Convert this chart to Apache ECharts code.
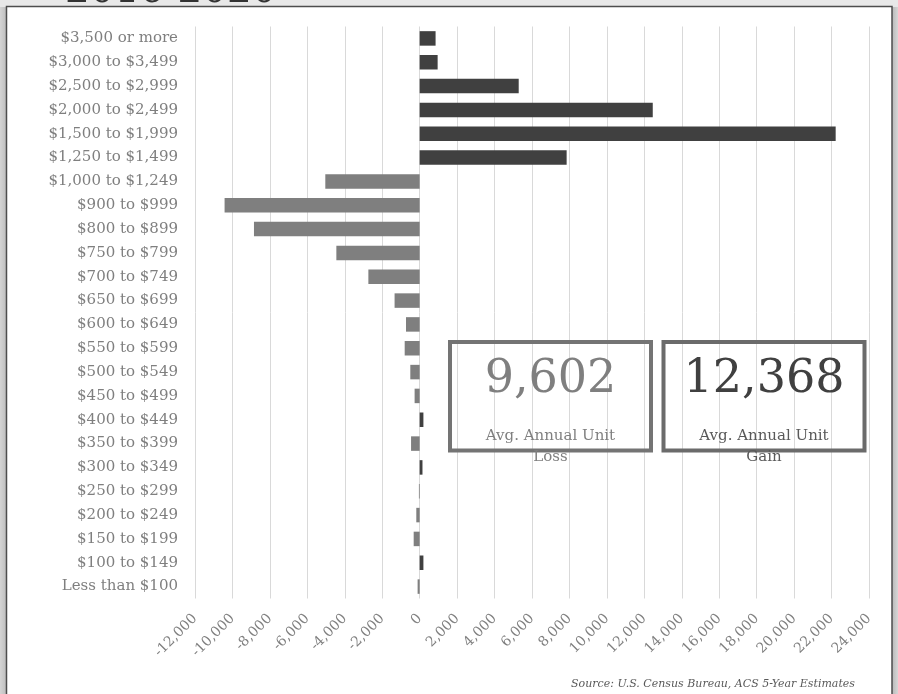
<!DOCTYPE html>
<html>
<head>
<meta charset="utf-8">
<title>Net Change in Rental Units by Gross Rent, 2016-2020</title>
<script src="https://cdn.jsdelivr.net/npm/echarts@6/dist/echarts.min.js"></script>
<style>
  html, body { margin: 0; padding: 0; background: #e8e8e8; }
  #chart { width: 898px; height: 694px; }
</style>
</head>
<body>
<div id="chart"></div>
<script>
// Gross rent brackets, top to bottom
const categories = [
  '$3,500 or more', '$3,000 to $3,499', '$2,500 to $2,999', '$2,000 to $2,499',
  '$1,500 to $1,999', '$1,250 to $1,499', '$1,000 to $1,249', '$900 to $999',
  '$800 to $899', '$750 to $799', '$700 to $749', '$650 to $699',
  '$600 to $649', '$550 to $599', '$500 to $549', '$450 to $499',
  '$400 to $449', '$350 to $399', '$300 to $349', '$250 to $299',
  '$200 to $249', '$150 to $199', '$100 to $149', 'Less than $100'
];

// Net change in units per bracket (negative = units lost)
const netChange = [
  850, 960, 5290, 12450,
  22220, 7850, -5040, -10420,
  -8850, -4450, -2740, -1340,
  -730, -800, -500, -270,
  200, -460, 150, -40,
  -180, -320, 200, -110
];

// Value axis range and tick step
const axisMin = -12000;
const axisMax = 24000;
const axisStep = 2000;

// Summary figures shown in the callout boxes
const avgAnnualLoss = 9602;
const avgAnnualGain = 12368;
const lossCaption = 'Avg. Annual Unit\nLoss';
const gainCaption = 'Avg. Annual Unit\nGain';

const titleText = '2016-2020';
const sourceText = 'Source: U.S. Census Bureau, ACS 5-Year Estimates';

const GAIN_COLOR = '#404040';
const LOSS_COLOR = '#7f7f7f';
const FONT = "'DejaVu Serif', 'Liberation Serif', serif";

const fmt = v => Number(v).toLocaleString('en-US');

const chart = echarts.init(document.getElementById('chart'), null, { renderer: 'canvas' });

chart.setOption({
  backgroundColor: '#e8e8e8',
  animation: false,
  textStyle: { fontFamily: FONT },
  grid: { left: 195, right: 29, top: 26.5, bottom: 95.5, containLabel: false },
  xAxis: {
    type: 'value',
    min: axisMin,
    max: axisMax,
    interval: axisStep,
    axisLine: { show: false },
    axisTick: { show: false },
    splitLine: { show: true, lineStyle: { color: '#d9d9d9', width: 1 } },
    axisLabel: {
      rotate: 45,
      margin: 18,
      color: '#7f7f7f',
      fontFamily: FONT,
      fontSize: 14,
      formatter: v => fmt(v)
    }
  },
  yAxis: {
    type: 'category',
    inverse: true,
    data: categories,
    axisLine: { show: false },
    axisTick: { show: false },
    splitLine: { show: false },
    axisLabel: {
      margin: 17,
      color: '#7f7f7f',
      fontFamily: FONT,
      fontSize: 15
    }
  },
  series: [{
    type: 'bar',
    data: netChange,
    barWidth: 14.5,
    itemStyle: {
      color: p => (p.value < 0 ? LOSS_COLOR : GAIN_COLOR)
    },
    z: 3
  }],
  graphic: [
    // heading running off the top edge
    {
      type: 'text', z: -30,
      x: 65, y: -8,
      style: {
        text: titleText, fill: '#333333',
        font: "39px " + FONT, verticalAlign: 'middle', align: 'left'
      }
    },
    // side shading
    {
      type: 'rect', z: -25,
      shape: { x: 0, y: 7, width: 7, height: 687 },
      style: {
        fill: new echarts.graphic.LinearGradient(0, 0, 1, 0, [
          { offset: 0, color: '#d4d4d4' }, { offset: 1, color: '#bcbcbc' }
        ])
      }
    },
    {
      type: 'rect', z: -25,
      shape: { x: 892, y: 7, width: 6, height: 687 },
      style: {
        fill: new echarts.graphic.LinearGradient(0, 0, 1, 0, [
          { offset: 0, color: '#b8b8b8' }, { offset: 1, color: '#d6d6d6' }
        ])
      }
    },
    // white panel
    {
      type: 'rect', z: -20,
      shape: { x: 6.5, y: 6.5, width: 885.5, height: 700 },
      style: { fill: '#ffffff', stroke: '#4d4d4d', lineWidth: 1.5 }
    },
    // loss callout
    {
      type: 'rect', z: 10,
      shape: { x: 450, y: 342, width: 201, height: 108.5 },
      style: { fill: 'none', stroke: '#747474', lineWidth: 4 }
    },
    {
      type: 'text', z: 11, x: 550.5, y: 380,
      style: {
        text: fmt(avgAnnualLoss), fill: '#7f7f7f',
        font: "46px " + FONT, align: 'center', verticalAlign: 'middle'
      }
    },
    {
      type: 'text', z: 11, x: 550.5, y: 447,
      style: {
        text: lossCaption, fill: '#7f7f7f', lineHeight: 21,
        font: "15px " + FONT, align: 'center', verticalAlign: 'middle'
      }
    },
    // gain callout
    {
      type: 'rect', z: 10,
      shape: { x: 663.5, y: 342, width: 201, height: 108.5 },
      style: { fill: 'none', stroke: '#6b6b6b', lineWidth: 4 }
    },
    {
      type: 'text', z: 11, x: 764, y: 380,
      style: {
        text: fmt(avgAnnualGain), fill: '#404040',
        font: "46px " + FONT, align: 'center', verticalAlign: 'middle'
      }
    },
    {
      type: 'text', z: 11, x: 764, y: 447,
      style: {
        text: gainCaption, fill: '#595959', lineHeight: 21,
        font: "15px " + FONT, align: 'center', verticalAlign: 'middle'
      }
    },
    // source line
    {
      type: 'text', z: 11, x: 855, y: 684,
      style: {
        text: sourceText, fill: '#595959',
        font: "italic 11px " + FONT, align: 'right', verticalAlign: 'middle'
      }
    }
  ]
});
</script>
</body>
</html>
